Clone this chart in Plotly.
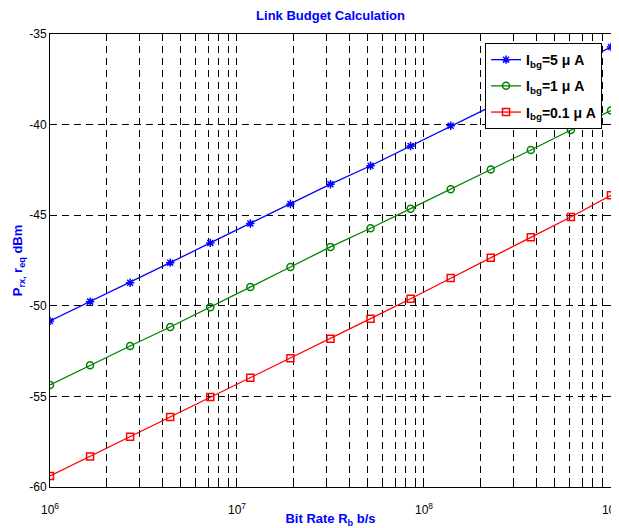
import numpy as np
import plotly.graph_objects as go

# Data
bit_rate_exp = [6.0, 6.2143, 6.4286, 6.6429, 6.8571, 7.0714, 7.2857, 7.5,
                7.7143, 7.9286, 8.1429, 8.3571, 8.5714, 8.7857, 9.0]
p_ibg5 = [-50.84, -49.77, -48.73, -47.62, -46.53, -45.46, -44.38, -43.29,
          -42.27, -41.18, -40.06, -39.01, -37.93, -36.82, -35.72]
p_ibg1 = [-54.37, -53.28, -52.22, -51.17, -50.08, -48.96, -47.86, -46.75,
          -45.72, -44.64, -43.57, -42.48, -41.40, -40.30, -39.22]
p_ibg01 = [-59.39, -58.31, -57.22, -56.14, -55.03, -53.97, -52.90, -51.82,
           -50.71, -49.61, -48.47, -47.35, -46.22, -45.10, -43.90]

series_names = ["<b>I<sub>bg</sub>=5 μ A</b>", "<b>I<sub>bg</sub>=1 μ A</b>",
                "<b>I<sub>bg</sub>=0.1 μ A</b>"]
series_colors = ["#0000FF", "#008000", "#FF0000"]
series_symbols = ["asterisk-open", "circle-open", "square-open"]

y_ticks = [-60, -55, -50, -45, -40, -35]
y_ticktext = ["-60", "-55", "-50", "-45", "-40", "-35"]
decades = [6, 7, 8, 9]

x_vals = [10 ** e for e in bit_rate_exp]

# x tick positions: every 1..9 multiple, labels only at decades
x_tickvals = []
x_ticktext = []
for d in decades:
    for m in range(1, 10):
        if d == 9 and m > 1:
            break
        x_tickvals.append(m * 10 ** d)
        x_ticktext.append(f"10<sup>{d}</sup>" if m == 1 else "")

fig = go.Figure()
for i, (name, vals, col, sym) in enumerate(zip(series_names, [p_ibg5, p_ibg1, p_ibg01],
                                               series_colors, series_symbols)):
    fig.add_trace(go.Scatter(
        x=x_vals, y=vals, mode="lines+markers", name=name, legendgroup=f"g{i}",
        line=dict(color=col, width=1.3),
        marker=dict(symbol=sym, size=7, color=col, line=dict(color=col, width=1.5)),
    ))

font_family = "Liberation Sans, Arial, sans-serif"
grid_dash = "7px,5px"

W, H = 611, 520
fig.update_layout(
    width=W, height=H,
    margin=dict(l=42, r=8, t=26, b=41, autoexpand=False),
    paper_bgcolor="white", plot_bgcolor="white",
    font=dict(family=font_family, size=12, color="black"),
    title=dict(text="<b>Link Budget Calculation</b>", x=(42 + 603) / 2 / W,
               xanchor="center", y=1 - 7 / H, yanchor="middle",
               font=dict(family=font_family, size=13, color="#0000FF")),
    showlegend=True,
    legend=dict(x=0.984, y=0.980, xanchor="right", yanchor="top",
                bgcolor="white", bordercolor="black", borderwidth=1,
                font=dict(family=font_family, size=14, color="black"),
                tracegroupgap=5, itemwidth=30),
    xaxis=dict(
        type="log", range=[6, 9.0002], automargin=False,
        tickmode="array", tickvals=x_tickvals, ticktext=x_ticktext,
        ticks="inside", ticklen=7, tickcolor="black",
        ticklabelstandoff=12, ticklabeloverflow="allow",
        showline=True, linecolor="black", linewidth=1, mirror="ticks",
        showgrid=True, gridcolor="black", gridwidth=1, griddash=grid_dash,
        zeroline=False,
        tickfont=dict(family=font_family, size=12, color="black"),
        title=dict(text="<b>Bit Rate R<sub>b</sub> b/s</b>", standoff=9,
                   font=dict(family=font_family, size=13, color="#0000FF")),
    ),
    yaxis=dict(
        range=[-60, -35], automargin=False,
        tickmode="array", tickvals=y_ticks, ticktext=y_ticktext,
        ticks="inside", ticklen=7, tickcolor="black",
        showline=True, linecolor="black", linewidth=1, mirror="ticks",
        showgrid=True, gridcolor="black", gridwidth=1, griddash=grid_dash,
        zeroline=False,
        tickfont=dict(family=font_family, size=12, color="black"),
        title=dict(text="<b>P<sub>rx,</sub> r<sub>eq</sub> dBm</b>", standoff=3,
                   font=dict(family=font_family, size=13, color="#0000FF")),
    ),
)

fig.write_html("out.html")
